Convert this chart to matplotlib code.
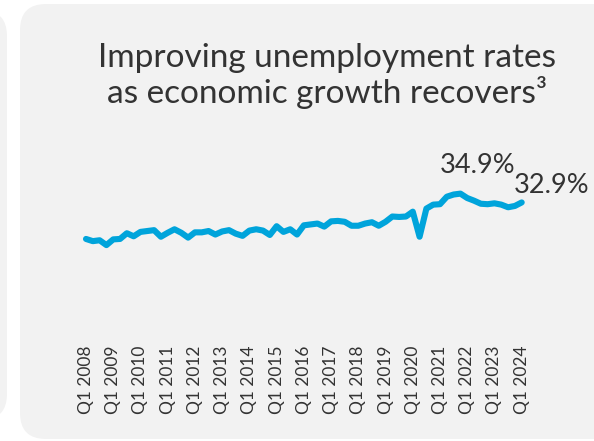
import matplotlib
matplotlib.use("Agg")
import matplotlib.pyplot as plt
from matplotlib.patches import FancyBboxPatch
import numpy as np

# quarterly unemployment rate (%), Q1 2008 .. Q1 2024
rates = [24.6, 24.1, 24.3, 23.2,
         24.5, 24.6, 25.9, 25.2,
         26.2, 26.4, 26.6, 25.1,
         26.0, 26.8, 26.0, 24.9,
         26.1, 26.1, 26.4, 25.6,
         26.3, 26.6, 25.8, 25.3,
         26.5, 26.8, 26.5, 25.5,
         27.5, 26.2, 26.8, 25.6,
         27.7, 27.9, 28.1, 27.4,
         28.6, 28.7, 28.5, 27.6,
         27.6, 28.1, 28.4, 27.6,
         28.5, 29.7, 29.6, 29.7,
         30.8, 25.1, 31.5, 32.4,
         32.5, 34.2, 34.7, 34.9,
         33.9, 33.3, 32.6, 32.5,
         32.7, 32.4, 31.8, 32.1,
         32.9]
years = list(range(2008, 2025))
tick_labels = ["Q1 " + str(y) for y in years]
title = "Improving unemployment rates\nas economic growth recovers³"

plt.rcParams["font.family"] = ["Lato", "DejaVu Sans"]
text_col = "#333333"
line_col = "#00a4db"

fig = plt.figure(figsize = (5.94, 4.41), dpi = 100)
fig.patch.set_facecolor("white")

# background panels (pixel -> inch)
def panel(x0, y0, x1, y1):
	# y given from top of image in px
	b = FancyBboxPatch((x0 / 100, (441 - y1) / 100), (x1 - x0) / 100, (y1 - y0) / 100,
					   boxstyle = "round,pad=0,rounding_size=0.26",
					   transform = fig.dpi_scale_trans, facecolor = "#f2f2f2",
					   edgecolor = "none", zorder = -10)
	fig.patches.append(b)

panel(-60, 10, 7, 420)
panel(20, 4, 660, 439)

fig.text(327 / 594, 1 - 43 / 441, title, ha = "center", va = "top",
		 fontsize = 24, color = text_col, linespacing = 1.1)

ax = fig.add_axes([86 / 594, 111 / 441, 435.7 / 594, 150 / 441])
ax.patch.set_alpha(0)
x = np.arange(len(rates))
ax.plot(x, rates, color = line_col, linewidth = 4.4,
		solid_joinstyle = "round", solid_capstyle = "round", clip_on = False)
ax.set_xlim(0, len(rates) - 1)
ax.set_ylim(3.9, 38.0)
for s in ax.spines.values():
	s.set_visible(False)
ax.set_yticks([])
ax.set_xticks(x[::4])
ax.set_xticklabels(tick_labels, rotation = 90, fontsize = 12.5, color = text_col)
ax.tick_params(axis = "x", length = 0, pad = 11)

peak = int(np.argmax(rates))
ax.annotate("{:.1f}%".format(rates[peak]), xy = (peak, rates[peak]),
			xytext = (12, 15), textcoords = "offset points", ha = "center",
			va = "baseline", fontsize = 19.5, color = text_col,
			annotation_clip = False)
ax.annotate("{:.1f}%".format(rates[-1]), xy = (len(rates) - 1, rates[-1]),
			xytext = (-5.5, 6.5), textcoords = "offset points", ha = "left",
			va = "baseline", fontsize = 19.5, color = text_col,
			annotation_clip = False)

plt.savefig("out.png", dpi = 100)
plt.close()
